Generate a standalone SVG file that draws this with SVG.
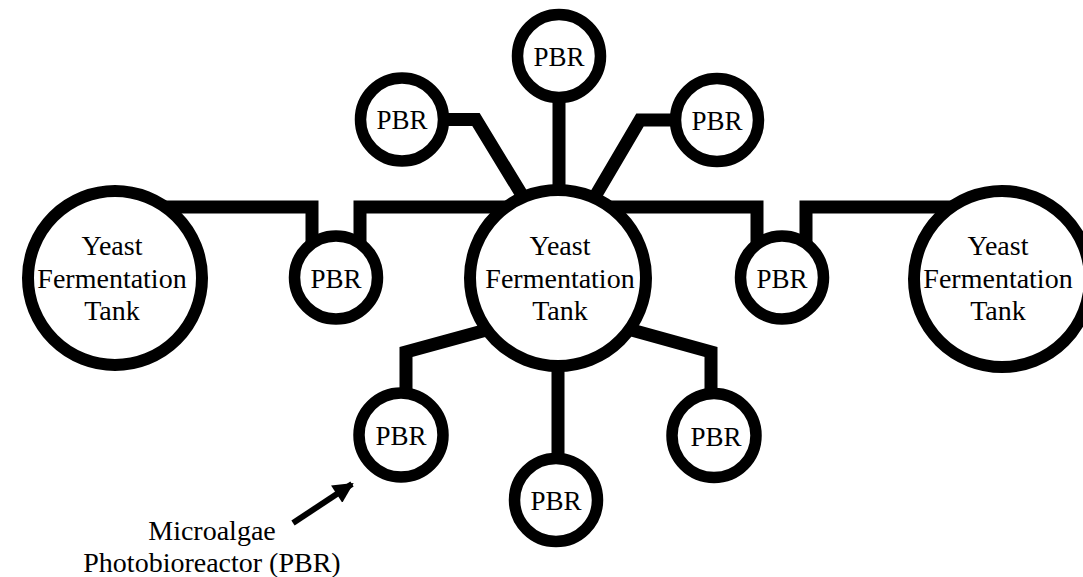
<svg xmlns="http://www.w3.org/2000/svg" width="1083" height="577" viewBox="0 0 1083 577">
<style>
.pipe{fill:none;stroke:#000;stroke-width:13;stroke-linejoin:miter;stroke-linecap:butt}
.tank{fill:#fff;stroke:#000;stroke-width:12}
.pbr{fill:#fff;stroke:#000;stroke-width:11.5}
text{font-family:"Liberation Serif","Times New Roman",serif;fill:#000;text-anchor:middle}
.t{font-size:28px}
.p{font-size:27px}
</style>
<defs>
<marker id="ah" viewBox="0 0 10 10" refX="9" refY="5" markerWidth="3.6" markerHeight="3.4" orient="auto" markerUnits="strokeWidth">
<path d="M0,0 L10,5 L0,10 Z" fill="#000"/>
</marker>
</defs>
<rect width="1083" height="577" fill="#fff"/>
<g id="connectors">
<polyline class="pipe" points="150,207 312,207 312,245"/>
<polyline class="pipe" points="360,245 360,207 520,207"/>
<polyline class="pipe" points="600,207 757,207 757,245"/>
<polyline class="pipe" points="806,245 806,207 960,207"/>
<polyline class="pipe" points="420,119.5 476,119.5 528,205"/>
<polyline class="pipe" points="700,120 640,120 590,205"/>
<line class="pipe" x1="559" y1="80" x2="559" y2="200"/>
<line class="pipe" x1="558" y1="350" x2="558" y2="470"/>
<polyline class="pipe" points="406,410 406,352 490,329"/>
<polyline class="pipe" points="711,410 711,352 628,329"/>
<line x1="293" y1="523" x2="352" y2="484" stroke="#000" stroke-width="6" marker-end="url(#ah)"/>
</g>
<g id="tank-left">
<circle class="tank" cx="115" cy="278" r="87"/>
<text class="t" x="112" y="255">Yeast</text>
<text class="t" x="112" y="288">Fermentation</text>
<text class="t" x="112" y="320">Tank</text>
</g>
<g id="tank-center">
<circle class="tank" cx="558" cy="278" r="88"/>
<text class="t" x="560" y="255">Yeast</text>
<text class="t" x="560" y="288">Fermentation</text>
<text class="t" x="560" y="320">Tank</text>
</g>
<g id="tank-right">
<circle class="tank" cx="1002" cy="279" r="88"/>
<text class="t" x="998" y="255">Yeast</text>
<text class="t" x="998" y="288">Fermentation</text>
<text class="t" x="998" y="320">Tank</text>
</g>
<g id="pbr-top">
<circle class="pbr" cx="559" cy="56" r="41.5"/>
<text class="p" x="559" y="66">PBR</text>
</g>
<g id="pbr-upper-left">
<circle class="pbr" cx="402" cy="119.5" r="41.5"/>
<text class="p" x="402" y="129">PBR</text>
</g>
<g id="pbr-upper-right">
<circle class="pbr" cx="717" cy="120" r="41.5"/>
<text class="p" x="717" y="130">PBR</text>
</g>
<g id="pbr-left">
<circle class="pbr" cx="336" cy="277.5" r="41.5"/>
<text class="p" x="336" y="288">PBR</text>
</g>
<g id="pbr-right">
<circle class="pbr" cx="782" cy="277.5" r="41.5"/>
<text class="p" x="782" y="288">PBR</text>
</g>
<g id="pbr-lower-left">
<circle class="pbr" cx="401" cy="435" r="42"/>
<text class="p" x="401" y="445">PBR</text>
</g>
<g id="pbr-lower-right">
<circle class="pbr" cx="714" cy="435.5" r="42"/>
<text class="p" x="716" y="446">PBR</text>
</g>
<g id="pbr-bottom">
<circle class="pbr" cx="556" cy="500" r="41.5"/>
<text class="p" x="556" y="510">PBR</text>
</g>
<g id="label">
<text class="t" x="212" y="540">Microalgae</text>
<text class="t" x="212" y="572">Photobioreactor (PBR)</text>
</g>
</svg>
